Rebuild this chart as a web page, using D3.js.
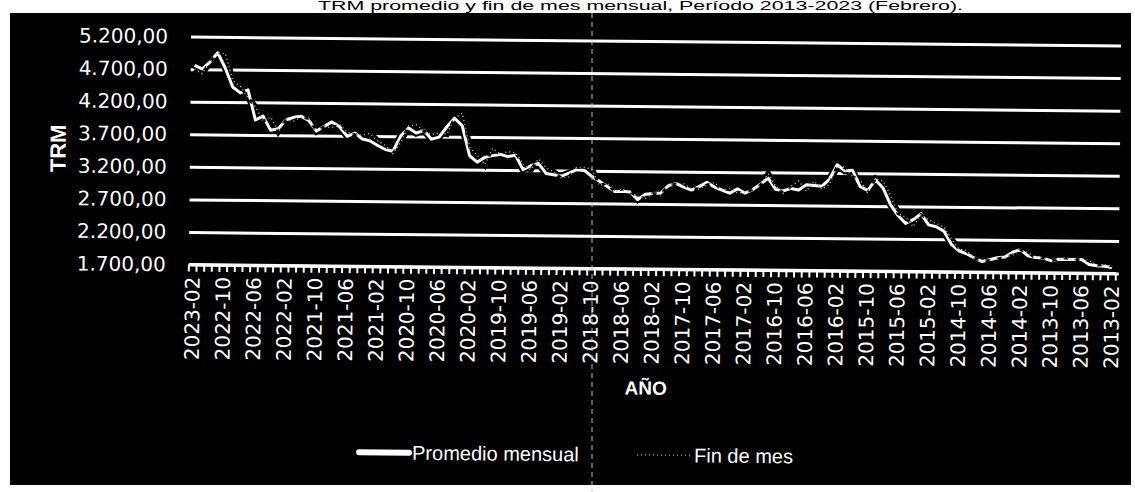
<!DOCTYPE html>
<html>
<head>
<meta charset="utf-8">
<script src="https://cdn.jsdelivr.net/npm/d3@7"></script>
<style>
  body { margin: 0; background: #fff; }
  svg { display: block; }
</style>
</head>
<body>
<svg width="1135" height="492"></svg>
<script>
// TRM promedio mensual y fin de mes, 2013-02 .. 2023-02 (orden cronologico)
const promedioMensual = [
    1792, 1810, 1817, 1834, 1909, 1908, 1909, 1909, 1887, 1925, 1934,          // 2013 (feb-dic)
    1958, 2055, 2011, 1937, 1925, 1893, 1865, 1917, 1980, 2026, 2124, 2325,    // 2014
    2392, 2419, 2589, 2497, 2437, 2557, 2725, 2979, 3102, 2937, 2999, 3245,    // 2015
    3236, 3328, 3103, 2994, 3006, 3017, 2936, 2958, 2918, 2941, 3113, 3018,    // 2016
    2934, 2879, 2942, 2875, 2921, 2968, 3038, 2971, 2918, 2962, 3013, 2985,    // 2017
    2868, 2860, 2847, 2764, 2880, 2890, 2884, 2960, 3038, 3111, 3204, 3213,    // 2018
    3159, 3114, 3133, 3152, 3304, 3267, 3206, 3427, 3404, 3437, 3417, 3389,    // 2019
    3315, 3412, 3874, 3986, 3854, 3694, 3661, 3796, 3752, 3829, 3708, 3469,    // 2020
    3495, 3556, 3625, 3652, 3744, 3693, 3837, 3911, 3842, 3768, 3925, 3992,    // 2021
    3976, 3938, 3797, 3775, 3990, 3929, 4390, 4343, 4433, 4723, 4956, 4810,    // 2022
    4706, 4760                                                                 // 2023 (ene-feb)
];
const finDeMes = [
    1816, 1832, 1828, 1891, 1929, 1890, 1935, 1915, 1884, 1932, 1927,
    2009, 2054, 1965, 1936, 1900, 1881, 1872, 1918, 2028, 2050, 2206, 2392,
    2441, 2496, 2576, 2389, 2532, 2585, 2866, 3087, 3122, 2897, 3101, 3149,
    3287, 3306, 3022, 2951, 3072, 2916, 3072, 2994, 2880, 2988, 3179, 3000,
    2936, 2896, 2880, 2948, 2920, 3038, 2995, 2937, 2937, 3012, 3005, 2984,
    2844, 2858, 2780, 2814, 2879, 2931, 2875, 3015, 2972, 3220, 3248, 3250,
    3102, 3083, 3174, 3244, 3373, 3205, 3290, 3465, 3478, 3443, 3528, 3277,
    3424, 3542, 4064, 3983, 3739, 3758, 3727, 3786, 3879, 3859, 3610, 3433,
    3560, 3625, 3737, 3712, 3715, 3757, 3867, 3822, 3834, 3770, 3960, 3981,
    3917, 3935, 3757, 3975, 3912, 4127, 4275, 4439, 4532, 4944, 4957, 4810,
    4632, 4700
];
const yTicks = [1700, 2200, 2700, 3200, 3700, 4200, 4700, 5200];
const seriesNames = ["Promedio mensual", "Fin de mes"];
const titleText = "TRM promedio y fin de mes mensual, Período 2013-2023 (Febrero).";

// categories: months, newest first (the chart runs right to left in time)
const months = d3.timeMonth.range(new Date(2013, 1, 1), new Date(2023, 2, 1));
const categories = months.map(d3.timeFormat("%Y-%m")).reverse();
const labelCats = categories.filter((c, i) => i % 4 === 0);

const rows = categories.map((c, i) => ({
    cat: c,
    prom: promedioMensual[promedioMensual.length - 1 - i],
    fin: finDeMes[finDeMes.length - 1 - i]
}));

const svg = d3.select("svg");
const esCO = d3.formatLocale({ decimal: ",", thousands: ".", grouping: [3], currency: ["$", ""] });
const fmtY = esCO.format(",.2f");

// title above the black chart area
svg.append("text")
    .attr("x", 318).attr("y", 10)
    .attr("textLength", 645)
    .attr("lengthAdjust", "spacingAndGlyphs")
    .attr("font-family", "Liberation Sans, Arial, sans-serif")
    .attr("font-size", 12)
    .attr("fill", "#000")
    .text(titleText);

svg.append("rect")
    .attr("x", 10).attr("y", 13)
    .attr("width", 1121).attr("height", 472)
    .attr("fill", "#000");

// the scan is slightly tilted
const g = svg.append("g").attr("transform", "rotate(0.55, 650, 150)");

const x = d3.scaleBand().domain(categories).range([190, 1117]);
const xc = c => x(c) + x.bandwidth() / 2;
const y = d3.scaleLinear().domain([1700, 5200]).range([269, 41]);

// grid + y labels
const yAxis = g.append("g")
    .attr("transform", "translate(190,0)")
    .call(d3.axisLeft(y).tickValues(yTicks).tickFormat(fmtY).tickSize(-930).tickPadding(23));
yAxis.select(".domain").remove();
yAxis.selectAll(".tick line").attr("stroke", "#fff").attr("stroke-width", 3);
yAxis.selectAll(".tick text")
    .attr("fill", "#fff")
    .attr("font-family", "DejaVu Sans, sans-serif")
    .attr("font-size", 20);

// series
const lineProm = d3.line().x(d => xc(d.cat)).y(d => y(d.prom));
const lineFin = d3.line().x(d => xc(d.cat)).y(d => y(d.fin));

g.append("path").datum(rows).attr("d", lineProm)
    .attr("fill", "none").attr("stroke", "#000").attr("stroke-width", 7);
g.append("path").datum(rows).attr("d", lineFin)
    .attr("fill", "none").attr("stroke", "#000").attr("stroke-width", 6);
g.append("path").datum(rows).attr("d", lineProm)
    .attr("fill", "none").attr("stroke", "#fff").attr("stroke-width", 3)
    .attr("stroke-linejoin", "round");
g.append("path").datum(rows).attr("d", lineFin)
    .attr("fill", "none").attr("stroke", "#000").attr("stroke-width", 3)
    .attr("stroke-dasharray", "5,7");
g.append("path").datum(rows).attr("d", lineFin)
    .attr("fill", "none").attr("stroke", "#bdbdbd").attr("stroke-width", 1.5)
    .attr("stroke-dasharray", "1,3");

// category axis with a tick between every month (drawn over the lines)
const baseY = y(1700);
g.append("line")
    .attr("x1", x.range()[0]).attr("x2", x.range()[1])
    .attr("y1", baseY).attr("y2", baseY)
    .attr("stroke", "#fff").attr("stroke-width", 3);
g.append("g").selectAll("line")
    .data(categories.concat([null]))
    .join("line")
    .attr("x1", d => d ? x(d) : x.range()[1])
    .attr("x2", d => d ? x(d) : x.range()[1])
    .attr("y1", baseY).attr("y2", baseY + 7)
    .attr("stroke", "#fff").attr("stroke-width", 2);

g.append("g").selectAll("text")
    .data(labelCats)
    .join("text")
    .attr("transform", d => `translate(${xc(d)},${baseY + 12}) rotate(-90)`)
    .attr("text-anchor", "end")
    .attr("dy", "0.35em")
    .attr("fill", "#fff")
    .attr("font-family", "DejaVu Sans, sans-serif")
    .attr("font-size", 20)
    .text(d => d);

// axis titles
g.append("text")
    .attr("transform", "translate(58,154) rotate(-90)")
    .attr("text-anchor", "middle")
    .attr("dy", "0.35em")
    .attr("fill", "#fff")
    .attr("font-family", "Liberation Sans, Arial, sans-serif")
    .attr("font-weight", "bold")
    .attr("font-size", 22)
    .text("TRM");
g.append("text")
    .attr("x", 648).attr("y", 388)
    .attr("text-anchor", "middle")
    .attr("dy", "0.35em")
    .attr("fill", "#fff")
    .attr("font-family", "Liberation Sans, Arial, sans-serif")
    .attr("font-weight", "bold")
    .attr("font-size", 19)
    .text("AÑO");

// legend
const legend = g.append("g").attr("transform", "translate(0,455)");
const legendItems = [
    { name: seriesNames[0], x1: 362, x2: 412, stroke: "#fff", w: 6, dash: null },
    { name: seriesNames[1], x1: 640, x2: 694, stroke: "#9a9a9a", w: 1.5, dash: "1,3" }
];
legendItems.forEach(it => {
    legend.append("line")
        .attr("x1", it.x1).attr("x2", it.x2)
        .attr("stroke", it.stroke).attr("stroke-width", it.w)
        .attr("stroke-linecap", it.dash ? "butt" : "round")
        .attr("stroke-dasharray", it.dash);
    legend.append("text")
        .attr("x", it.x2 + 3)
        .attr("dy", "0.35em")
        .attr("fill", "#fff")
        .attr("font-family", "Liberation Sans, Arial, sans-serif")
        .attr("font-size", 20)
        .text(it.name);
});

// fold line of the scanned page
svg.append("line")
    .attr("x1", 592).attr("x2", 592)
    .attr("y1", 13).attr("y2", 492)
    .attr("stroke", "#bbb").attr("stroke-width", 1)
    .attr("stroke-dasharray", "5,4");
</script>
</body>
</html>
